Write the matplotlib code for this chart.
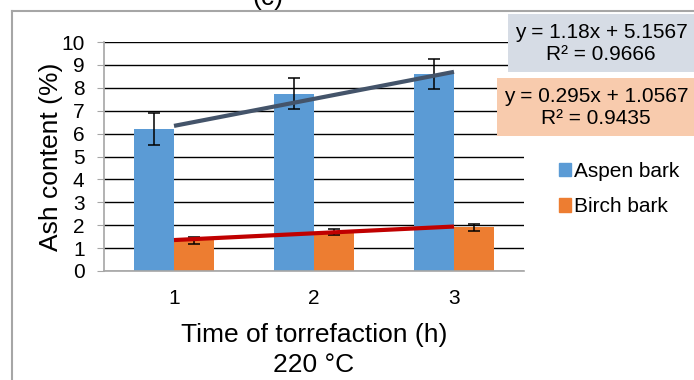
import matplotlib
matplotlib.use("Agg")
from matplotlib import pyplot as plt
from matplotlib.patches import Rectangle, Patch
from matplotlib.lines import Line2D
import numpy as np

plt.rcParams['font.family'] = ['Liberation Sans', 'DejaVu Sans']

heures = [1, 2, 3]
tremble = [6.2, 7.75, 8.6]          # Aspen bark
tremble_err = [0.68, 0.68, 0.65]
bouleau = [1.35, 1.7, 1.9]          # Birch bark
bouleau_err = [0.15, 0.12, 0.15]

# equations des courbes de tendance (Excel)
pente = [1.18, 0.295]
origine = [5.1567, 1.0567]
eq_textes = ["y = 1.18x + 5.1567\nR² = 0.9666", "y = 0.295x + 1.0567\nR² = 0.9435"]

bleu = "#5B9BD5"
orange = "#ED7D31"

fig = plt.figure(figsize=(6.94, 3.8), dpi=100)
W, H = 694, 380
ax = fig.add_axes([104 / W, 1 - 271 / H, 420 / W, 229 / H])

x = np.array(heures)
larg = 0.2857
ax.bar(x - larg / 2, tremble, larg, color=bleu, zorder=2)
ax.bar(x + larg / 2, bouleau, larg, color=orange, zorder=2)
ax.errorbar(x - larg / 2, tremble, yerr=tremble_err, fmt="none", ecolor="black",
            elinewidth=1.1, capsize=4.5, capthick=1.1, zorder=3)
ax.errorbar(x + larg / 2, bouleau, yerr=bouleau_err, fmt="none", ecolor="black",
            elinewidth=1.1, capsize=4.5, capthick=1.1, zorder=3)

xt = np.array([1, 3])
ax.plot(xt, pente[0] * xt + origine[0], color="#44546A", lw=3, zorder=4, solid_capstyle="butt")
ax.plot(xt, pente[1] * xt + origine[1], color="#C00000", lw=3, zorder=4, solid_capstyle="butt")

ax.set_xlim(0.5, 3.5)
ax.set_ylim(0, 10)
ax.set_yticks(range(0, 11))
ax.set_xticks(heures)
ax.yaxis.grid(True, color="black", lw=1)
ax.set_axisbelow(True)
for s in ["top", "right"]:
    ax.spines[s].set_visible(False)
ax.spines["left"].set_color("#A6A6A6")
ax.spines["bottom"].set_color("#A6A6A6")
ax.spines["left"].set_linewidth(1.2)
ax.spines["bottom"].set_linewidth(1.2)
ax.tick_params(axis="y", length=5, color="#A6A6A6", labelsize=15, pad=9)
ax.tick_params(axis="x", length=0, labelsize=15, pad=13)
ax.set_ylabel("Ash content (%)", fontsize=19, labelpad=-1)
ax.set_xlabel("Time of torrefaction (h)\n220 °C", fontsize=19, labelpad=11, linespacing=1.3)

# cadre gris du graphique
fig.add_artist(Line2D([12 / W, 12 / W], [0, 1 - 11 / H], color="#A6A6A6", lw=1.5))
fig.add_artist(Line2D([12 / W, 1], [1 - 11 / H, 1 - 11 / H], color="#A6A6A6", lw=1.5))
fig.text(268 / W, 1 - 10 / H, "(c)", fontsize=19, ha="center", va="bottom")

# boites des equations
fig.add_artist(Rectangle((508 / W, 1 - 72 / H), 186 / W, 58 / H, transform=fig.transFigure,
                         facecolor="#D6DCE5", edgecolor="none", zorder=5))
fig.add_artist(Rectangle((497 / W, 1 - 136 / H), 197 / W, 58 / H, transform=fig.transFigure,
                         facecolor="#F8CBAD", edgecolor="none", zorder=5))
fig.text(601 / W, 1 - 43 / H, eq_textes[0], fontsize=15, ha="center", va="center",
         linespacing=1.2, zorder=6)
fig.text(596 / W, 1 - 108 / H, eq_textes[1], fontsize=15, ha="center", va="center",
         linespacing=1.2, zorder=6)

poignees = [Patch(color=bleu), Patch(color=orange)]
fig.legend(poignees, ["Aspen bark", "Birch bark"], loc="upper left",
           bbox_to_anchor=(540 / W, 1 - 143 / H), frameon=False, fontsize=15,
           handlelength=0.6, handleheight=0.6, handletextpad=0.15, labelspacing=0.8)

fig.savefig("out.png", dpi=100)
